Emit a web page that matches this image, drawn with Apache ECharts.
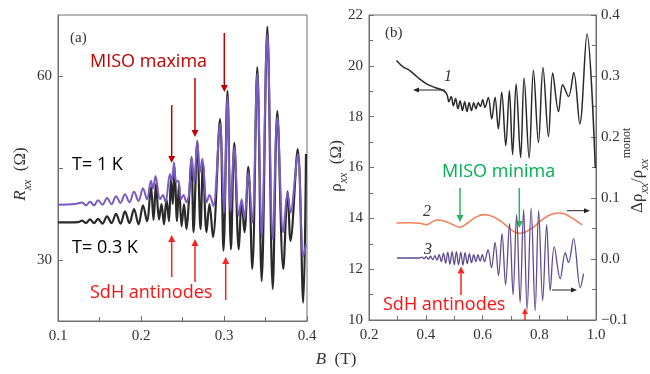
<!DOCTYPE html>
<html><head><meta charset="utf-8">
<script src="https://cdn.jsdelivr.net/npm/echarts@6/dist/echarts.min.js"></script>
<style>html,body{margin:0;padding:0;background:#fff}#c{width:650px;height:374px}</style>
</head><body><div id="c"></div>
<script>
// ---------- Panel (a): R_xx vs B ----------
const aB_T1 = [0.100,0.1205,0.1289,0.1337,0.1386,0.1434,0.1482,0.1536,0.1590,0.1645,0.1699,0.1753,0.1807,0.1861,0.1916,0.1970,0.2024,0.2072,0.2120,0.2145,0.2175,0.2229,0.2265,0.2295,0.2349,0.2371,0.2398,0.2422,0.2449,0.2482,0.2512,0.2548,0.2578,0.2611,0.2642,0.2678,0.2711,0.2739,0.2792,0.2825,0.2871,0.2952,0.3000,0.3042,0.3078,0.3124,0.3178,0.3213,0.3247,0.3293,0.3341,0.3401,0.3454,0.3522,0.3587,0.3642,0.3714,0.3767,0.3801,0.3888,0.3955,0.3988];
const aR_T1 = [39.0,39.1,39.35,38.9,39.5,38.9,39.75,39.0,40.1,39.1,40.4,39.3,40.7,39.4,41.1,39.6,41.7,39.9,42.9,41.6,43.7,39.9,40.6,39.4,44.0,42.9,45.9,42.7,42.9,39.9,40.6,39.4,40.7,46.7,42.7,49.5,44.3,46.5,39.4,40.6,38.8,52.2,37.7,56.6,38.0,48.4,37.2,39.9,36.6,44.3,36.1,60.4,33.9,66.9,33.4,53.3,34.5,41.0,37.7,47.3,30.6,32.5];
const aB_T03 = [0.100,0.1241,0.1289,0.1337,0.1386,0.1434,0.1482,0.1536,0.1590,0.1645,0.1699,0.1753,0.1807,0.1861,0.1916,0.1970,0.2024,0.2072,0.2120,0.2151,0.2181,0.2217,0.2247,0.2277,0.2307,0.2337,0.2361,0.2383,0.2404,0.2434,0.2458,0.2489,0.2518,0.2548,0.2578,0.2608,0.2633,0.2678,0.2717,0.2747,0.2789,0.2825,0.2867,0.2952,0.2994,0.3042,0.3084,0.3124,0.3178,0.3213,0.3247,0.3293,0.3341,0.3401,0.3454,0.3522,0.3587,0.3642,0.3714,0.3767,0.3801,0.3888,0.3955,0.3988];
const aR_T03 = [36.1,36.15,36.4,36.0,36.6,36.0,36.7,35.9,37.1,36.0,37.5,35.9,37.9,36.0,38.3,35.8,38.9,36.3,41.9,36.5,42.4,36.6,39.1,35.8,39.9,36.3,43.2,39.1,45.2,36.3,42.4,35.5,39.1,35.0,39.9,46.8,34.5,49.3,35.0,45.7,34.5,39.1,33.7,53.0,31.5,57.6,31.7,49.1,31.7,39.6,34.5,45.2,28.5,61.5,26.5,68.1,25.2,54.3,28.5,41.2,33.1,48.1,23.0,47.3];
const aXTicks = [0.1,0.2,0.3,0.4];
const aYTicks = [30,45,60];
const aYLabels = [30,60];

// ---------- Panel (b) ----------
const bB_1 = [0.2968,0.3191,0.3438,0.3721,0.4028,0.4322,0.4615,0.4746,0.4816,0.4898,0.4975,0.5053,0.5134,0.5212,0.5293,0.5371,0.5452,0.5530,0.5611,0.5689,0.5770,0.5848,0.5929,0.6007,0.6088,0.6205,0.6325,0.6442,0.6558,0.6678,0.6820,0.6947,0.7060,0.7184,0.7343,0.7466,0.7643,0.7795,0.7972,0.8131,0.8325,0.8473,0.8678,0.8827,0.9032,0.9216,0.9428,0.9682,0.9975];
const bRho_1 = [20.21,19.97,19.81,19.54,19.29,19.15,19.03,18.88,18.59,18.79,18.43,18.71,18.31,18.63,18.24,18.59,18.20,18.55,18.24,18.55,18.31,18.55,18.40,18.67,18.36,18.75,17.91,18.76,17.52,18.96,16.86,19.03,16.51,19.29,16.39,19.52,16.37,19.83,16.98,19.93,17.22,19.72,18.20,19.26,18.79,19.74,17.72,21.25,15.98];
const bB_2 = [0.2968,0.3438,0.3792,0.4028,0.418,0.4382,0.4675,0.4922,0.5205,0.5488,0.5770,0.6053,0.6336,0.6618,0.6901,0.7113,0.7307,0.7537,0.7820,0.8102,0.8385,0.8668,0.8915,0.9163,0.9375,0.9516];
const bD_2 = [0.059,0.0595,0.0587,0.0563,0.0595,0.064,0.062,0.057,0.052,0.0595,0.0686,0.0727,0.0702,0.0628,0.0522,0.0448,0.042,0.0448,0.053,0.0645,0.0727,0.0755,0.0735,0.0669,0.0604,0.0558];
const bB_3 = [0.2989,0.3792,0.3862,0.3940,0.4014,0.4092,0.4166,0.4244,0.4322,0.4396,0.4473,0.4548,0.4625,0.4700,0.4777,0.4852,0.4929,0.5004,0.5081,0.5155,0.5233,0.5311,0.5385,0.5463,0.5537,0.5615,0.5689,0.5767,0.5841,0.5919,0.5993,0.6071,0.6194,0.6318,0.6442,0.6565,0.6689,0.6813,0.6954,0.7078,0.7201,0.7325,0.7449,0.7572,0.7714,0.7855,0.7979,0.8120,0.8261,0.8385,0.8527,0.8739,0.8915,0.9032,0.9208,0.9445,0.9562];
const bD_3 = [0.0016,0.0016,0.003,0.0005,0.0038,-0.0003,0.0046,-0.0011,0.0054,-0.002,0.0071,-0.0044,0.0095,-0.0069,0.0112,-0.0085,0.012,-0.0094,0.012,-0.0094,0.0112,-0.0102,0.0103,-0.0077,0.0087,-0.0061,0.0071,-0.0044,0.0071,-0.0036,0.0071,-0.0044,0.0153,-0.0143,0.0272,-0.0274,0.0415,-0.0422,0.0579,-0.0586,0.0727,-0.0717,0.0809,-0.0832,0.0833,-0.0848,0.0792,-0.0684,0.0563,-0.052,0.0202,-0.0323,0.0103,-0.0061,0.0333,-0.0471,-0.0241];

const zip = (xs, ys) => xs.map((x, i) => [x, ys[i]]);

const SERIF = '"Liberation Serif","DejaVu Serif",serif';
const SANS = '"Open Sans","Noto Sans",sans-serif';
const AX = '#6e6e6e';
const lblStyle = {color:'#333', fontFamily:SERIF, fontSize:15};

function arrow(x1,y1,x2,y2,color,w,hl,hw){
  const ang=Math.atan2(y2-y1,x2-x1);
  hl=hl||7; hw=hw||3.5;
  const bx=x2-hl*Math.cos(ang), by=y2-hl*Math.sin(ang);
  const px=-Math.sin(ang), py=Math.cos(ang);
  return [
    {type:'line', silent:true, shape:{x1:x1,y1:y1,x2:bx,y2:by}, style:{stroke:color,lineWidth:w}},
    {type:'polygon', silent:true, shape:{points:[[x2,y2],[bx+px*hw,by+py*hw],[bx-px*hw,by-py*hw]]}, style:{fill:color}}
  ];
}
function txt(x,y,text,font,color,extra){
  return Object.assign({type:'text', silent:true, x:x, y:y, style:{text:text, font:font, fill:color, align:'left', verticalAlign:'middle'}}, extra||{});
}
const richAx = {
  n:{fontFamily:SERIF,fontSize:17,lineHeight:26,verticalAlign:'middle',fill:'#333'},
  i:{fontFamily:SERIF,fontSize:17,fontStyle:'italic',lineHeight:26,verticalAlign:'middle',fill:'#333'},
  s:{fontFamily:SERIF,fontSize:12,fontStyle:'italic',lineHeight:14,verticalAlign:'bottom',fill:'#333'}
};

const chart = echarts.init(document.getElementById('c'), null, {renderer:'canvas'});
const graphics = [].concat(
  [txt(70,38,'(a)','15px '+SERIF,'#333'), txt(385,33,'(b)','15px '+SERIF,'#333')],
  [txt(90,62,'MISO maxima','18px '+SANS,'#c00000')],
  arrow(171.7,105,171.7,163,'#c00000',1.5), arrow(195,78,195,137,'#c00000',1.5), arrow(224.3,33,224.3,92,'#c00000',1.5),
  [txt(72,165,'T= 1 K','18px '+SANS,'#000'), txt(72,248,'T= 0.3 K','18px '+SANS,'#000')],
  [txt(90,293,'SdH antinodes','18px '+SANS,'#ff1010')],
  arrow(171.7,277,171.7,235,'#ff2020',1.5), arrow(195,282,195,239,'#ff2020',1.5), arrow(225.7,300,225.7,257,'#ff2020',1.5),
  [txt(442,172,'MISO minima','18px '+SANS,'#00b050')],
  arrow(460,188,460,222,'#2cb55a',1.5), arrow(519.3,188,519.3,228,'#2cb55a',1.5),
  [txt(383,305,'SdH antinodes','18px '+SANS,'#ff1010')],
  arrow(461,295,461,266.5,'#ff2020',1.5), arrow(525,320,525,308,'#ff2020',1.5,6,3),
  arrow(445,90,413,90,'#222',1,6,2.5), arrow(567,210.7,590,210.7,'#222',1,6,2.5), arrow(552,290,577,290,'#222',1,6,2.5),
  [txt(444,77,'1','italic 16px '+SERIF,'#333'), txt(423,212,'2','italic 16px '+SERIF,'#333'), txt(424,250,'3','italic 16px '+SERIF,'#333')],
  [
    {type:'text', silent:true, x:21, y:174, rotation:Math.PI/2, style:{text:'{i|R}{s|xx}{n|  (Ω)}', rich:richAx, align:'center', verticalAlign:'middle'}},
    {type:'text', silent:true, x:337, y:166, rotation:Math.PI/2, style:{text:'{n|ρ}{s|xx}{n|  (Ω)}', rich:richAx, align:'center', verticalAlign:'middle'}},
    {type:'text', silent:true, x:638, y:186, rotation:Math.PI/2, style:{text:'{n|Δρ}{s|xx}{n|/ρ}{s|xx}', rich:richAx, align:'center', verticalAlign:'middle'}},
    {type:'text', silent:true, x:627, y:143, rotation:Math.PI/2, style:{text:'monot', font:'12px '+SERIF, fill:'#333', align:'center', verticalAlign:'middle'}},
    {type:'text', silent:true, x:336, y:360, style:{text:'{i|B}{n|  (T)}', rich:richAx, align:'center', verticalAlign:'middle'}}
  ]
);

const option = {
  animation:false,
  backgroundColor:'#fff',
  grid:[
    {left:58, top:15, width:249, height:306, show:true, borderColor:AX, borderWidth:1, backgroundColor:'transparent'},
    {left:369, top:15, width:227, height:305, show:true, borderColor:AX, borderWidth:1, backgroundColor:'transparent'}
  ],
  xAxis:[
    {gridIndex:0, type:'value', min:0.1, max:0.4, interval:0.1,
     axisLine:{onZero:false,lineStyle:{color:AX}}, axisTick:{inside:true,length:5,lineStyle:{color:AX}},
     minorTick:{show:true,splitNumber:2,length:4,lineStyle:{color:AX}}, splitLine:{show:false},
     axisLabel:Object.assign({margin:8, formatter:v=>v.toFixed(1)}, lblStyle)},
    {gridIndex:1, type:'value', min:0.2, max:1.0, interval:0.2,
     axisLine:{onZero:false,lineStyle:{color:AX}}, axisTick:{inside:true,length:5,lineStyle:{color:AX}},
     minorTick:{show:true,splitNumber:2,length:4,lineStyle:{color:AX}}, splitLine:{show:false},
     axisLabel:Object.assign({margin:8, formatter:v=>v.toFixed(1)}, lblStyle)}
  ],
  yAxis:[
    {gridIndex:0, type:'value', min:20, max:70,
     axisLine:{show:true,onZero:false,lineStyle:{color:AX}}, axisTick:{show:true,inside:true,length:5,customValues:aYTicks,lineStyle:{color:AX}},
     splitLine:{show:false},
     axisLabel:Object.assign({margin:6, customValues:aYLabels}, lblStyle)},
    {gridIndex:1, type:'value', min:10, max:22, interval:2,
     axisLine:{show:true,onZero:false,lineStyle:{color:AX}}, axisTick:{show:true,inside:true,length:5,lineStyle:{color:AX}},
     minorTick:{show:true,splitNumber:2,length:4,lineStyle:{color:AX}}, splitLine:{show:false},
     axisLabel:Object.assign({margin:6}, lblStyle)},
    {gridIndex:1, type:'value', position:'right', min:-0.1, max:0.4, interval:0.1,
     axisLine:{show:true,onZero:false,lineStyle:{color:AX}}, axisTick:{show:true,inside:true,length:5,lineStyle:{color:AX}},
     minorTick:{show:true,splitNumber:2,length:4,lineStyle:{color:AX}}, splitLine:{show:false},
     axisLabel:Object.assign({margin:5, formatter:v=>{const s=Math.abs(v).toFixed(1); return v<-1e-9?'−'+s:s;}}, lblStyle)}
  ],
  series:[
    {type:'line', name:'T=0.3 K', xAxisIndex:0, yAxisIndex:0, data:zip(aB_T03,aR_T03), symbol:'none', smooth:0.35, lineStyle:{color:'#2a2a2a',width:2.2}},
    {type:'line', name:'T=1 K', xAxisIndex:0, yAxisIndex:0, data:zip(aB_T1,aR_T1), symbol:'none', smooth:0.35, lineStyle:{color:'#7a5cc0',width:2}},
    {type:'line', name:'1', xAxisIndex:1, yAxisIndex:1, data:zip(bB_1,bRho_1), symbol:'none', smooth:0.35, lineStyle:{color:'#2a2a2a',width:1.5}},
    {type:'line', name:'2', xAxisIndex:1, yAxisIndex:2, data:zip(bB_2,bD_2), symbol:'none', smooth:0.4, lineStyle:{color:'#f08258',width:1.6}},
    {type:'line', name:'3', xAxisIndex:1, yAxisIndex:2, data:zip(bB_3,bD_3), symbol:'none', smooth:0.35, lineStyle:{color:'#5e4b8f',width:1.3}}
  ],
  graphic:graphics
};
chart.setOption(option);
</script></body></html>
